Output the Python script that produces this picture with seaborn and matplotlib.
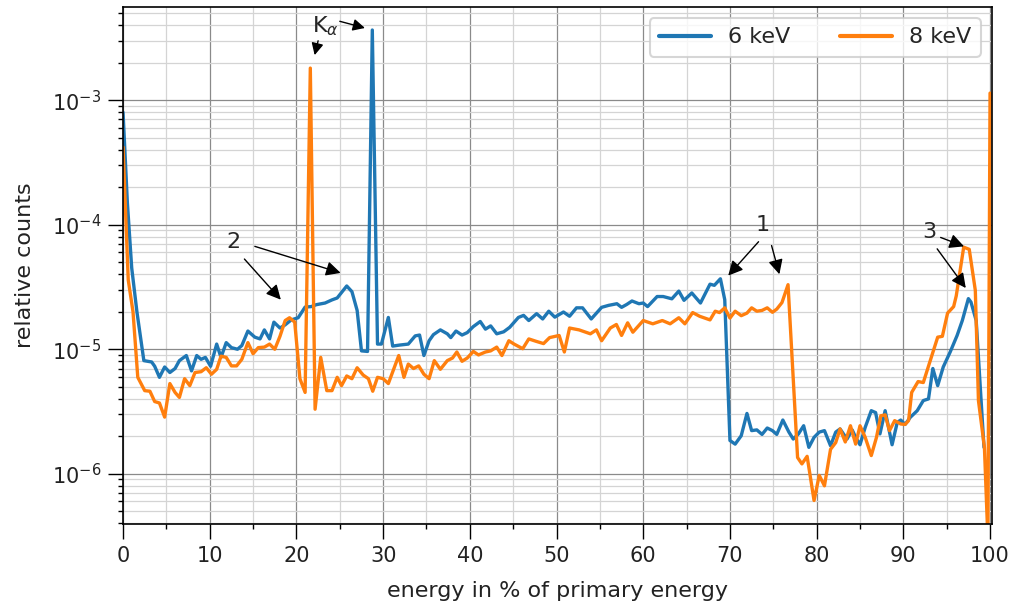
import numpy as np
import pandas as pd
import matplotlib
matplotlib.use("Agg")
import matplotlib.pyplot as plt
import matplotlib.ticker as mticker
import seaborn as sns

# ---- data (relative counts in units of 1e-6) ----
x_6kev = [0.0, 0.5, 1.0, 1.6, 2.4, 3.3, 3.65, 4.2, 4.8, 5.4, 6.0, 6.5, 7.3, 7.9, 8.5, 9.0, 9.5,
          10.1, 10.8, 11.3, 11.9, 12.5, 13.2, 13.7, 14.4, 15.2, 15.8, 16.3, 16.9, 17.4, 18.1,
          18.7, 19.4, 20.2, 21.0, 21.7, 22.3, 23.3, 24.1, 24.7, 25.8, 26.4, 27.0, 27.5, 28.2,
          28.75, 29.35, 29.8, 30.6, 31.1, 31.9, 32.9, 33.7, 34.2, 34.7, 35.3, 35.8, 36.6, 37.4,
          37.8, 38.4, 39.1, 39.7, 40.4, 41.2, 41.8, 42.4, 43.1, 43.9, 44.6, 45.6, 46.2, 46.8,
          47.7, 48.4, 49.1, 49.8, 50.8, 51.5, 52.3, 53.0, 54.0, 55.2, 56.0, 56.96, 57.5, 58.1,
          58.7, 59.5, 60.0, 60.5, 61.6, 62.3, 63.3, 64.1, 64.7, 65.6, 66.6, 67.7, 68.2, 68.9,
          69.4, 70.0, 70.6, 71.3, 71.96, 72.5, 73.1, 73.7, 74.3, 74.9, 75.4, 76.1, 76.8, 77.3,
          77.9, 78.5, 79.1, 79.7, 80.3, 80.9, 81.6, 82.2, 82.7, 83.5, 84.1, 84.5, 85.0, 85.6,
          86.3, 86.8, 87.3, 87.9, 88.7, 89.3, 89.7, 90.2, 90.8, 91.6, 92.3, 92.9, 93.4, 93.96,
          94.6, 95.4, 96.2, 96.8, 97.5, 97.8, 98.4, 99.3]
y_6kev = [800, 150, 45, 20, 8.1, 7.9, 7.3, 5.95, 7.2, 6.5, 7.0, 8.1, 8.9, 6.7, 8.9, 8.3, 8.6,
          7.3, 11.0, 8.6, 11.3, 10.3, 10.0, 10.7, 14.0, 12.5, 12.1, 14.3, 12.1, 16.5, 14.8,
          15.7, 17.2, 17.9, 21.8, 22.0, 22.8, 23.5, 24.9, 25.8, 32.2, 29.0, 20.5, 9.7, 9.6,
          3660, 11.0, 11.0, 18.0, 10.6, 10.8, 11.0, 12.8, 13.0, 8.9, 11.7, 13.1, 14.3, 13.3,
          12.4, 14.0, 13.0, 13.6, 15.2, 16.7, 14.5, 15.4, 13.3, 13.8, 15.0, 18.0, 18.7, 17.0,
          19.3, 17.5, 20.2, 18.1, 19.9, 18.4, 21.5, 21.5, 17.5, 21.7, 22.5, 23.2, 21.7, 22.9,
          24.4, 23.2, 23.5, 22.0, 26.5, 26.5, 25.4, 29.3, 24.7, 28.3, 23.5, 33.3, 32.6, 36.8,
          25.0, 1.85, 1.73, 2.02, 3.05, 2.22, 2.25, 2.07, 2.33, 2.22, 2.07, 2.7, 2.16, 1.9,
          2.09, 2.43, 1.63, 1.96, 2.16, 2.22, 1.68, 2.16, 2.29, 1.9, 2.25, 1.96, 1.71, 2.36,
          3.21, 3.1, 2.09, 3.21, 1.71, 2.59, 2.7, 2.49, 2.84, 3.21, 3.87, 3.99, 7.0, 5.1,
          7.2, 9.5, 12.9, 17.0, 25.5, 23.9, 17.0, 1.63]

x_8kev = [0.0, 0.6, 1.15, 1.7, 2.5, 3.1, 3.65, 4.2, 4.8, 5.4, 6.0, 6.5, 7.1, 7.7, 8.3, 9.0, 9.6,
          10.2, 10.8, 11.3, 11.9, 12.5, 13.1, 13.7, 14.4, 15.0, 15.6, 16.3, 16.9, 17.5, 18.1,
          18.7, 19.2, 19.8, 20.4, 21.0, 21.6, 22.15, 22.8, 23.5, 24.1, 24.7, 25.2, 25.8, 26.4,
          27.0, 27.7, 28.3, 28.8, 29.35, 30.0, 30.6, 31.8, 32.4, 32.9, 33.5, 34.1, 34.7, 35.3,
          35.9, 36.6, 37.4, 38.0, 38.5, 39.1, 39.7, 40.4, 41.0, 41.8, 42.4, 43.1, 43.7, 44.5,
          45.1, 46.1, 46.8, 47.6, 48.5, 49.2, 50.3, 50.9, 51.5, 52.6, 53.9, 54.6, 55.2, 56.2,
          56.9, 57.5, 58.2, 58.8, 60.0, 61.1, 62.2, 63.1, 64.1, 64.8, 65.7, 66.5, 67.7, 68.3,
          68.8, 69.4, 70.0, 70.6, 71.3, 71.96, 72.5, 73.1, 73.7, 74.3, 74.9, 75.4, 76.0, 76.7,
          77.8, 78.3, 78.9, 79.7, 80.3, 80.9, 81.6, 82.2, 82.7, 83.3, 83.9, 84.5, 85.0, 85.6,
          86.3, 86.9, 87.4, 87.9, 88.4, 89.0, 89.7, 90.2, 90.6, 90.96, 91.7, 92.3, 93.1, 93.96,
          94.5, 95.1, 95.8, 96.1, 96.96, 97.6, 98.3, 98.66, 99.35, 99.75, 100.0]
y_8kev = [420, 36, 20, 5.95, 4.65, 4.6, 3.8, 3.7, 2.85, 5.3, 4.5, 4.1, 5.8, 5.1, 6.5, 6.6, 7.1,
          6.3, 6.9, 8.8, 8.6, 7.35, 7.35, 8.3, 11.3, 9.2, 10.3, 10.4, 11.0, 10.0, 12.7,
          17.0, 17.9, 16.5, 5.8, 4.5, 1810, 3.3, 8.6, 4.65, 4.65, 5.95, 5.1, 6.1, 5.8,
          7.1, 6.2, 5.8, 4.6, 5.95, 5.8, 5.3, 8.9, 5.95, 7.6, 7.0, 7.35, 6.3, 5.8,
          8.1, 6.9, 8.1, 8.5, 9.5, 8.0, 8.5, 9.6, 9.0, 9.5, 9.7, 10.4, 8.9, 11.7,
          11.0, 10.1, 12.1, 11.6, 11.1, 12.4, 12.9, 9.5, 14.8, 14.3, 13.3, 14.3, 11.7, 14.8,
          15.8, 12.9, 16.3, 13.7, 17.0, 16.0, 17.0, 16.0, 17.9, 16.0, 19.7, 18.4, 17.2, 20.2,
          19.7, 21.5, 17.8, 20.2, 18.6, 19.5, 21.5, 20.2, 20.5, 21.5, 19.8, 21.0, 23.7, 33.0,
          1.35, 1.2, 1.38, 0.61, 0.97, 0.80, 1.57, 1.78, 2.29, 1.8, 2.43, 1.73, 2.43, 1.96,
          1.4, 1.96, 2.92, 2.97, 2.22, 2.67, 2.51, 2.49, 2.67, 4.5, 5.5, 5.4, 8.1, 12.5,
          12.7, 19.5, 22.0, 26.8, 66.0, 63.4, 29.7, 3.87, 1.63, 0.3, 1140]

series_labels = ["6 keV", "8 keV"]
x_ticks = [0, 10, 20, 30, 40, 50, 60, 70, 80, 90, 100]
unit = 1e-6

df = pd.concat([
    pd.DataFrame({"energy": x_6kev, "counts": np.array(y_6kev) * unit, "series": series_labels[0]}),
    pd.DataFrame({"energy": x_8kev, "counts": np.array(y_8kev) * unit, "series": series_labels[1]}),
], ignore_index=True)

sns.set_theme(style="ticks")
plt.rcParams["font.family"] = ["DejaVu Sans"]

fig = plt.figure(figsize=(10.11, 6.10), dpi=100)
ax = fig.add_axes([0.1217, 0.141, 0.8593, 0.8475])

sns.lineplot(data=df, x="energy", y="counts", hue="series", estimator=None, sort=False,
             palette=["#1f77b4", "#ff7f0e"], linewidth=2.4, ax=ax, legend=True)

ax.set_yscale("log")
ax.set_xlim(0, 100.2)
ax.set_ylim(3.95e-7, 5.6e-3)
ax.set_xticks(x_ticks)
ax.xaxis.set_minor_locator(mticker.MultipleLocator(5))
ax.yaxis.set_major_locator(mticker.LogLocator(base=10, numticks=10))
ax.yaxis.set_minor_locator(mticker.LogLocator(base=10, subs=np.arange(2, 10), numticks=20))
ax.yaxis.set_minor_formatter(mticker.NullFormatter())

ax.grid(which="major", color="#8a8a8a", linewidth=0.9)
ax.grid(which="minor", color="#d4d4d4", linewidth=0.9)
ax.set_axisbelow(True)

for s in ax.spines.values():
    s.set_color("black")
    s.set_linewidth(1.2)
    s.set_visible(True)

ax.tick_params(axis="both", which="major", direction="out", length=10.5, width=1.0,
               labelsize=15, color="black", labelcolor="#222222", pad=5)
ax.tick_params(axis="both", which="minor", direction="out", length=3.8, width=1.0, color="black")

ax.set_xlabel("energy in % of primary energy", fontsize=16, labelpad=11, color="#222222")
ax.set_ylabel("relative counts", fontsize=16, labelpad=12, color="#222222")

handles, labels = ax.get_legend_handles_labels()
leg = ax.legend(handles, labels, ncol=2, loc="upper right", fontsize=16, frameon=True,
                fancybox=True, edgecolor="#cccccc", handlelength=2.35, columnspacing=2.25,
                handletextpad=0.75, borderpad=0.42, borderaxespad=0.5)
leg.get_frame().set_linewidth(1.5)
for line in leg.get_lines():
    line.set_linewidth(3)

arrow = dict(arrowstyle="-|>", color="black", lw=1.0, mutation_scale=22, shrinkA=0, shrinkB=0)
arrow_small = dict(arrowstyle="-|>", color="black", lw=1.0, mutation_scale=18, shrinkA=0, shrinkB=0)
fs = 16

# K alpha
ax.text(23.3, 3.95e-3, r"K$_\alpha$", fontsize=fs, ha="center", va="center")
ax.annotate("", xy=(22.1, 2.3e-3), xytext=(22.5, 3.0e-3), arrowprops=arrow_small)
ax.annotate("", xy=(27.9, 3.8e-3), xytext=(25.0, 4.3e-3), arrowprops=arrow_small)

# 2
ax.text(12.7, 7.2e-5, "2", fontsize=fs, ha="center", va="center")
ax.annotate("", xy=(18.2, 2.5e-5), xytext=(14.0, 5.3e-5), arrowprops=arrow)
ax.annotate("", xy=(25.1, 4.1e-5), xytext=(15.2, 6.7e-5), arrowprops=arrow)

# 1
ax.text(73.8, 9.9e-5, "1", fontsize=fs, ha="center", va="center")
ax.annotate("", xy=(69.8, 3.9e-5), xytext=(73.3, 7.3e-5), arrowprops=arrow)
ax.annotate("", xy=(75.7, 4.0e-5), xytext=(74.8, 6.8e-5), arrowprops=arrow)

# 3
ax.text(93.0, 8.7e-5, "3", fontsize=fs, ha="center", va="center")
ax.annotate("", xy=(97.0, 6.7e-5), xytext=(94.3, 7.9e-5), arrowprops=arrow)
ax.annotate("", xy=(97.2, 3.1e-5), xytext=(93.9, 6.4e-5), arrowprops=arrow)

fig.savefig("out.png", dpi=100)
